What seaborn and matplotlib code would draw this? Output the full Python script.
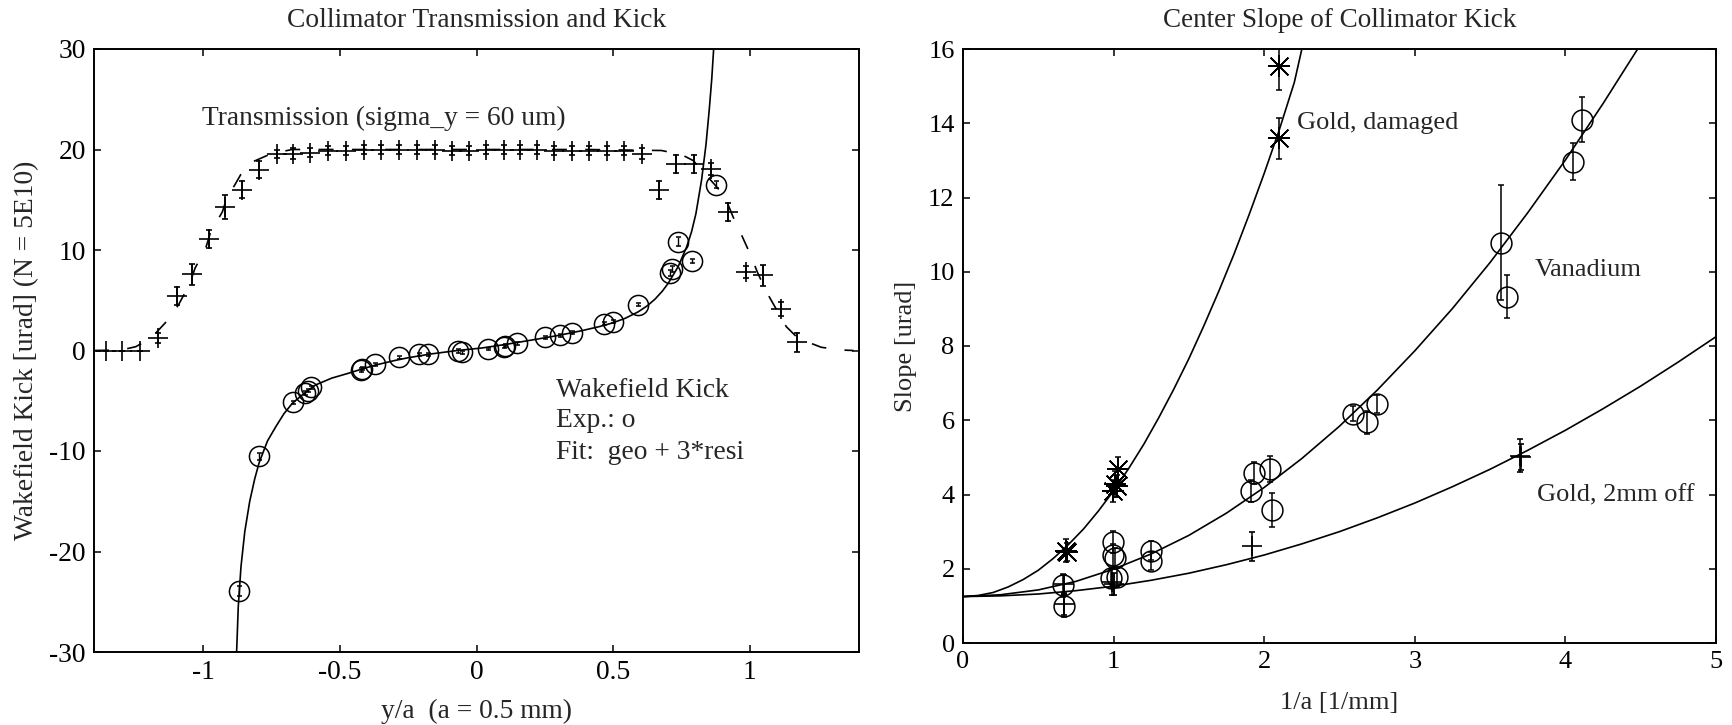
import matplotlib
matplotlib.use("Agg")
import matplotlib.pyplot as plt
import seaborn as sns

# ---------------- left panel: transmission scan ----------------
trans_x = [-1.356, -1.296, -1.231, -1.165, -1.098, -1.040, -0.979, -0.920, -0.859, -0.796,
           -0.729, -0.671, -0.608, -0.543, -0.478, -0.413, -0.348, -0.283, -0.218, -0.153,
           -0.090, -0.027, 0.034, 0.099, 0.158, 0.220, 0.285, 0.349, 0.413, 0.478, 0.541,
           0.607, 0.669, 0.732, 0.797, 0.860, 0.921, 0.986, 1.049, 1.114, 1.174]
trans_y = [0.0, 0.0, 0.0, 1.28, 5.45, 7.6, 11.1, 14.25, 16.0, 18.0,
           19.6, 19.6, 19.7, 19.9, 19.9, 20.0, 20.0, 20.0, 20.0, 20.0,
           19.9, 19.9, 20.0, 20.0, 20.0, 20.0, 19.9, 19.9, 19.9, 19.9, 19.9,
           19.6, 16.0, 18.6, 18.6, 18.1, 13.8, 7.8, 7.5, 4.1, 0.8]
trans_err = [0.0, 0.0, 0.0, 0.5, 0.9, 1.05, 0.9, 1.2, 0.85, 0.85,
             0.4, 0.5, 0.45, 0.4, 0.4, 0.4, 0.4, 0.4, 0.4, 0.4,
             0.4, 0.4, 0.4, 0.4, 0.4, 0.4, 0.4, 0.4, 0.4, 0.4, 0.4,
             0.5, 0.9, 0.9, 0.9, 0.6, 0.9, 0.6, 1.05, 0.7, 0.9]

trans_fit_x = [-1.40, -1.30, -1.247, -1.192, -1.135, -1.091, -1.052, -1.030, -0.991, -0.973,
               -0.930, -0.916, -0.863, -0.817, -0.750, -0.674, -0.40, 0.0, 0.40, 0.677,
               0.750, 0.793, 0.872, 0.909, 0.939, 0.970, 1.000, 1.028, 1.061, 1.092,
               1.134, 1.177, 1.262, 1.335, 1.38]
trans_fit_y = [0.0, 0.05, 0.38, 1.21, 2.87, 4.53, 6.5, 8.2, 10.2, 11.8,
               13.8, 15.0, 17.5, 18.8, 19.6, 20.0, 20.0, 20.0, 20.0, 19.9,
               19.5, 18.9, 16.5, 15.3, 13.3, 11.5, 9.7, 7.8, 5.85, 4.36,
               2.37, 1.21, 0.32, 0.05, 0.0]

# ---------------- left panel: wakefield kick ----------------
kick_x = [-0.870, -0.796, -0.672, -0.626, -0.616, -0.607, -0.422, -0.419, -0.372, -0.282,
          -0.209, -0.178, -0.068, -0.053, 0.042, 0.099, 0.105, 0.148, 0.251, 0.306,
          0.349, 0.468, 0.501, 0.590, 0.710, 0.717, 0.736, 0.787, 0.878]
kick_y = [-23.9, -10.5, -5.16, -4.2, -4.0, -3.66, -1.94, -1.84, -1.37, -0.68,
          -0.38, -0.38, -0.05, -0.15, 0.18, 0.38, 0.45, 0.72, 1.31, 1.54,
          1.77, 2.64, 2.87, 4.53, 7.7, 8.1, 10.8, 8.9, 16.5]
kick_err = [0.5, 0.35, 0.15, 0.2, 0.15, 0.15, 0.15, 0.15, 0.15, 0.15,
            0.15, 0.15, 0.15, 0.15, 0.1, 0.15, 0.15, 0.15, 0.15, 0.15,
            0.15, 0.15, 0.15, 0.15, 0.3, 0.3, 0.45, 0.2, 0.35]

kick_fit_x = [-0.878, -0.872, -0.862, -0.848, -0.830, -0.812, -0.796, -0.765, -0.735, -0.705,
              -0.674, -0.630, -0.589, -0.530, -0.467, -0.420, -0.370, -0.300, -0.250, -0.163,
              -0.070, 0.020, 0.110, 0.202, 0.300, 0.385, 0.450, 0.495, 0.544, 0.592,
              0.625, 0.653, 0.680, 0.702, 0.738, 0.769, 0.787, 0.803, 0.824, 0.840,
              0.852, 0.861, 0.868]
kick_fit_y = [-30.0, -25.5, -21.5, -18.0, -15.0, -12.8, -11.2, -9.0, -7.6, -6.3,
              -5.25, -4.25, -3.43, -2.75, -2.25, -1.85, -1.45, -1.0, -0.72, -0.33,
              0.0, 0.25, 0.62, 1.04, 1.5, 1.97, 2.38, 2.72, 3.2, 3.85,
              4.45, 5.1, 5.9, 6.7, 8.34, 10.3, 11.8, 13.6, 17.0, 20.5,
              24.0, 27.0, 30.0]

left_xticks = [-1, -0.5, 0, 0.5, 1]
left_xticklabels = ["-1", "-0.5", "0", "0.5", "1"]
left_yticks = [-30, -20, -10, 0, 10, 20, 30]

# ---------------- right panel: center slope ----------------
gold_dmg_x = [0.683, 0.690, 0.993, 1.010, 1.020, 1.030, 2.100, 2.100]
gold_dmg_y = [2.49, 2.45, 4.10, 4.29, 4.23, 4.70, 13.60, 15.54]
gold_dmg_err = [0.3, 0.25, 0.3, 0.35, 0.3, 0.3, 0.55, 0.65]

vanadium_x = [0.665, 0.672, 0.993, 0.995, 1.010, 0.980, 1.020, 1.250, 1.250, 1.910,
              1.930, 2.040, 2.050, 2.590, 2.680, 2.750, 3.570, 3.615, 4.053, 4.112]
vanadium_y = [1.55, 1.00, 2.73, 2.36, 2.30, 1.74, 1.77, 2.49, 2.21, 4.10,
              4.57, 4.69, 3.58, 6.18, 5.94, 6.44, 10.78, 9.33, 12.96, 14.10]
vanadium_err = [0.3, 0.3, 0.3, 0.3, 0.25, 0.25, 0.25, 0.25, 0.25, 0.3,
                0.3, 0.35, 0.45, 0.2, 0.3, 0.25, 1.55, 0.58, 0.5, 0.6]

gold_off_x = [0.670, 0.672, 0.990, 1.000, 1.920, 3.700, 3.705]
gold_off_y = [1.58, 1.05, 1.65, 1.58, 2.60, 5.05, 5.00]
gold_off_err = [0.25, 0.3, 0.35, 0.3, 0.38, 0.45, 0.35]

gold_dmg_fit_x = [0.0, 0.1, 0.2, 0.3, 0.4, 0.5, 0.6, 0.7, 0.8, 0.9, 1.0, 1.1, 1.2,
                  1.3, 1.4, 1.5, 1.6, 1.7, 1.8, 1.9, 2.0, 2.1, 2.2, 2.25]
gold_dmg_fit_y = [1.25, 1.28, 1.36, 1.51, 1.71, 1.96, 2.28, 2.65, 3.07, 3.56, 4.10, 4.70, 5.35,
                  6.07, 6.84, 7.66, 8.55, 9.49, 10.48, 11.54, 12.65, 13.82, 15.10, 16.0]

vanadium_fit_x = [0.0, 0.25, 0.5, 0.75, 1.0, 1.25, 1.5, 1.75, 2.0, 2.25, 2.5, 2.75,
                  3.0, 3.25, 3.5, 3.75, 4.0, 4.25, 4.5]
vanadium_fit_y = [1.25, 1.30, 1.43, 1.66, 1.99, 2.40, 2.90, 3.50, 4.19, 4.97, 5.84, 6.81,
                  7.87, 9.01, 10.25, 11.59, 13.01, 14.53, 16.13]

gold_off_fit_x = [0.0, 0.25, 0.5, 0.75, 1.0, 1.25, 1.5, 1.75, 2.0, 2.25, 2.5, 2.75,
                  3.0, 3.25, 3.5, 3.75, 4.0, 4.25, 4.5, 4.75, 5.0]
gold_off_fit_y = [1.25, 1.27, 1.32, 1.41, 1.53, 1.69, 1.88, 2.11, 2.37, 2.67, 3.00, 3.37,
                  3.77, 4.21, 4.68, 5.19, 5.73, 6.31, 6.92, 7.57, 8.25]

right_xticks = [0, 1, 2, 3, 4, 5]
right_yticks = [0, 2, 4, 6, 8, 10, 12, 14, 16]

# ---------------- style ----------------
sns.set_theme(style="ticks")
plt.rcParams["font.family"] = ["Liberation Serif", "DejaVu Serif"]
plt.rcParams["axes.unicode_minus"] = False
plt.rcParams["axes.edgecolor"] = "black"
plt.rcParams["axes.linewidth"] = 1.4

FS_L = 19.8   # left panel text
FS_R = 19.0   # right panel text
fig = plt.figure(figsize=(17.32, 7.25), dpi=100)
fig.patch.set_facecolor("white")

ax1 = fig.add_axes([94 / 1732, 1 - 652 / 725, 765 / 1732, 603 / 725])
ax2 = fig.add_axes([963 / 1732, 1 - 643 / 725, 753 / 1732, 594 / 725])

LW = 1.2

# transmission fit (dashed) and kick fit (solid)
sns.lineplot(x=trans_fit_x, y=trans_fit_y, ax=ax1, color="black", lw=LW,
             sort=False, estimator=None)
ax1.lines[-1].set_dashes([9, 11])
sns.lineplot(x=kick_fit_x, y=kick_fit_y, ax=ax1, color="black", lw=LW,
             sort=False, estimator=None)

ax1.errorbar(trans_x, trans_y, yerr=trans_err, fmt="+", ms=14, mew=1.2,
             color="black", ecolor="black", elinewidth=1.2, capsize=2.5, capthick=1.2,
             zorder=3)
ax1.errorbar(kick_x, kick_y, yerr=kick_err, fmt="o", ms=14.5, mew=1.1,
             mfc="none", mec="black", ecolor="black", elinewidth=1.0, capsize=1.8,
             capthick=1.0, zorder=3)

ax1.set_xlim(-1.4, 1.4)
ax1.set_ylim(-30, 30)
ax1.set_xticks(left_xticks)
ax1.set_xticklabels(left_xticklabels)
ax1.set_yticks(left_yticks)
ax1.set_title("Collimator Transmission and Kick", fontsize=FS_L, pad=16)
ax1.set_xlabel("y/a  (a = 0.5 mm)", fontsize=FS_L)
ax1.set_ylabel("Wakefield Kick [urad] (N = 5E10)", fontsize=FS_L)

ax1.text(-1.004, 23.1, "Transmission (sigma_y = 60 um)", fontsize=FS_L, ha="left", va="center")
ax1.text(0.292, -4.0, "Wakefield Kick", fontsize=FS_L, ha="left", va="center")
ax1.text(0.292, -7.0, "Exp.: o", fontsize=FS_L, ha="left", va="center")
ax1.text(0.292, -10.1, "Fit:  geo + 3*resi", fontsize=FS_L, ha="left", va="center")

# right panel
for fx, fy in [(gold_dmg_fit_x, gold_dmg_fit_y),
               (vanadium_fit_x, vanadium_fit_y),
               (gold_off_fit_x, gold_off_fit_y)]:
    sns.lineplot(x=fx, y=fy, ax=ax2, color="black", lw=LW, sort=False, estimator=None)

ax2.errorbar(vanadium_x, vanadium_y, yerr=vanadium_err, fmt="o", ms=15, mew=1.1,
             mfc="none", mec="black", ecolor="black", elinewidth=1.1, capsize=2.5,
             capthick=1.1, zorder=3)
ax2.errorbar(gold_off_x, gold_off_y, yerr=gold_off_err, fmt="+", ms=15, mew=1.2,
             color="black", ecolor="black", elinewidth=1.1, capsize=2.5, capthick=1.1,
             zorder=3)
ax2.errorbar(gold_dmg_x, gold_dmg_y, yerr=gold_dmg_err, fmt="none",
             ecolor="black", elinewidth=1.1, capsize=2.5, capthick=1.1, zorder=3)
ax2.plot(gold_dmg_x, gold_dmg_y, ls="none", marker=(4, 2, 0), ms=16, mew=1.2,
         color="black", zorder=3)
ax2.plot(gold_dmg_x, gold_dmg_y, ls="none", marker=(4, 2, 45), ms=18, mew=1.2,
         color="black", zorder=3)

ax2.set_xlim(0, 5)
ax2.set_ylim(0, 16)
ax2.set_xticks(right_xticks)
ax2.set_xticklabels([str(t) for t in right_xticks])
ax2.set_yticks(right_yticks)
ax2.set_yticklabels([str(t) for t in right_yticks])
ax2.set_title("Center Slope of Collimator Kick", fontsize=19.5, pad=16)
ax2.set_xlabel("1/a [1/mm]", fontsize=FS_R)
ax2.set_ylabel("Slope [urad]", fontsize=FS_R)

ax2.text(2.217, 14.0, "Gold, damaged", fontsize=FS_R, ha="left", va="center")
ax2.text(3.798, 10.05, "Vanadium", fontsize=FS_R, ha="left", va="center")
ax2.text(3.813, 3.98, "Gold, 2mm off", fontsize=FS_R, ha="left", va="center")

for ax, fs in ((ax1, FS_L), (ax2, FS_R)):
    ax.set_facecolor("white")
    ax.tick_params(direction="in", length=5, width=1.1, top=True, right=True,
                   labelsize=fs, colors="black", pad=6)
    for s in ax.spines.values():
        s.set_visible(True)
        s.set_color("black")
        s.set_linewidth(1.4)

ax1.yaxis.set_label_coords(-0.072, 0.5)
ax1.xaxis.set_label_coords(0.5, -0.078)
ax2.yaxis.set_label_coords(-0.061, 0.5)
ax2.xaxis.set_label_coords(0.5, -0.082)

fig.savefig("out.png", dpi=100, facecolor="white")
